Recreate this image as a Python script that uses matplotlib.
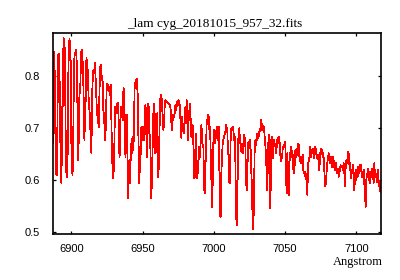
import matplotlib
matplotlib.use('Agg')
import matplotlib.pyplot as plt
import numpy as np

# spectrum, split in chunks along the wavelength axis
wl_1 = [6886.9, 6887.1, 6887.8, 6888.3, 6889.0, 6889.7, 6890.1, 6890.6, 6891.3, 6891.8,
        6892.5, 6893.0, 6893.4, 6893.9, 6894.4, 6895.1, 6895.5, 6896.0, 6896.5, 6897.2,
        6897.6, 6898.1, 6898.6, 6899.0, 6899.5, 6900.0, 6900.7, 6901.1, 6901.6, 6902.1,
        6902.8, 6903.3, 6903.7, 6904.2, 6904.7, 6905.1, 6905.6, 6906.1, 6906.8, 6907.5,
        6907.9, 6908.4, 6909.1, 6909.6, 6910.0, 6910.5, 6911.0, 6911.4, 6912.1, 6912.8,
        6913.5, 6914.0, 6914.5, 6914.9, 6915.4, 6915.9, 6916.4, 6916.8, 6917.3, 6917.8,
        6918.5, 6919.2, 6919.6, 6920.1, 6920.6, 6921.0, 6921.5, 6922.0, 6922.4, 6922.9,
        6923.4, 6923.8, 6924.3, 6924.8, 6925.5, 6926.2, 6926.9]
fl_1 = [0.806, 0.671, 0.847, 0.799, 0.613, 0.610, 0.697, 0.841, 0.844, 0.774,
        0.607, 0.594, 0.742, 0.742, 0.873, 0.870, 0.812, 0.668, 0.607, 0.607,
        0.774, 0.844, 0.873, 0.860, 0.825, 0.652, 0.610, 0.633, 0.774, 0.841,
        0.847, 0.851, 0.825, 0.742, 0.639, 0.677, 0.767, 0.767, 0.847, 0.851,
        0.825, 0.780, 0.677, 0.735, 0.754, 0.835, 0.825, 0.812, 0.754, 0.729,
        0.684, 0.652, 0.761, 0.793, 0.812, 0.806, 0.825, 0.806, 0.774, 0.735,
        0.716, 0.703, 0.761, 0.818, 0.822, 0.806, 0.793, 0.790, 0.735, 0.722,
        0.690, 0.677, 0.729, 0.786, 0.783, 0.780, 0.764]

wl_2 = [6927.6, 6928.5, 6929.2, 6929.9, 6930.4, 6930.8, 6931.6, 6932.0, 6932.7, 6933.2,
        6933.7, 6934.1, 6934.6, 6935.1, 6935.5, 6936.0, 6936.5, 6936.9, 6937.4, 6937.9,
        6938.3, 6938.8, 6939.3, 6939.7, 6940.2, 6940.7, 6941.1, 6941.6, 6942.1, 6942.5,
        6943.0, 6943.5, 6943.9, 6944.4, 6945.1, 6945.8, 6946.3, 6946.8, 6947.2, 6947.7,
        6948.2, 6948.6, 6949.1, 6949.6, 6950.0, 6950.5, 6951.0, 6951.4, 6951.9, 6952.4,
        6952.8, 6953.3, 6953.8, 6954.2, 6954.7, 6955.2, 6955.7, 6956.1, 6956.6, 6957.1,
        6957.5, 6958.0, 6958.5, 6958.9, 6959.4, 6959.9, 6960.3, 6960.8, 6961.3, 6961.7,
        6962.2, 6962.7, 6963.1, 6963.6, 6964.1, 6964.5, 6965.0, 6965.5, 6965.9, 6966.4,
        6966.9, 6967.6]
fl_2 = [0.783, 0.645, 0.604, 0.626, 0.722, 0.742, 0.729, 0.748, 0.748, 0.709,
        0.645, 0.658, 0.742, 0.722, 0.742, 0.716, 0.777, 0.774, 0.703, 0.645,
        0.726, 0.726, 0.645, 0.565, 0.626, 0.639, 0.594, 0.671, 0.639, 0.677,
        0.684, 0.658, 0.709, 0.786, 0.790, 0.796, 0.774, 0.748, 0.610, 0.594,
        0.665, 0.649, 0.703, 0.677, 0.684, 0.703, 0.677, 0.722, 0.745, 0.729,
        0.645, 0.697, 0.748, 0.742, 0.690, 0.684, 0.626, 0.565, 0.620, 0.677,
        0.729, 0.748, 0.722, 0.652, 0.658, 0.677, 0.729, 0.607, 0.626, 0.677,
        0.754, 0.761, 0.764, 0.745, 0.716, 0.697, 0.709, 0.748, 0.754, 0.751,
        0.751, 0.748]

wl_3 = [6968.3, 6969.2, 6969.7, 6970.1, 6970.6, 6971.1, 6971.5, 6972.0, 6972.5, 6973.0,
        6973.4, 6973.9, 6974.4, 6974.8, 6975.3, 6975.8, 6976.2, 6976.7, 6977.2, 6977.6,
        6978.1, 6978.6, 6979.0, 6979.5, 6980.0, 6980.4, 6980.9, 6981.4, 6981.8, 6982.3,
        6982.8, 6983.2, 6983.7, 6984.2, 6984.7, 6985.1, 6985.6, 6986.1, 6986.5, 6987.0,
        6987.5, 6987.9, 6988.4, 6988.9, 6989.3, 6989.8, 6990.3, 6990.7, 6991.2, 6991.7,
        6992.1, 6992.6, 6993.1, 6993.5, 6994.0, 6994.5, 6994.9, 6995.4, 6995.9, 6996.4,
        6996.8, 6997.3, 6997.8, 6998.2, 6998.7, 6999.2, 6999.6, 7000.1, 7000.6, 7001.0,
        7001.5, 7002.0, 7002.4, 7002.9, 7003.4, 7003.8, 7004.3, 7004.8, 7005.2, 7005.7,
        7006.2, 7006.6, 7007.1, 7007.6, 7008.3]
fl_3 = [0.748, 0.745, 0.735, 0.713, 0.697, 0.719, 0.726, 0.722, 0.729, 0.745,
        0.735, 0.751, 0.742, 0.751, 0.754, 0.751, 0.735, 0.703, 0.681, 0.722,
        0.700, 0.709, 0.690, 0.716, 0.742, 0.709, 0.754, 0.716, 0.677, 0.719,
        0.735, 0.748, 0.716, 0.684, 0.690, 0.706, 0.668, 0.604, 0.658, 0.607,
        0.690, 0.633, 0.604, 0.629, 0.642, 0.665, 0.645, 0.671, 0.706, 0.690,
        0.668, 0.665, 0.588, 0.575, 0.620, 0.665, 0.709, 0.716, 0.726, 0.722,
        0.697, 0.703, 0.645, 0.591, 0.549, 0.600, 0.671, 0.697, 0.693, 0.671,
        0.693, 0.700, 0.703, 0.677, 0.703, 0.633, 0.533, 0.530, 0.613, 0.645,
        0.674, 0.677, 0.684, 0.690, 0.697]

wl_4 = [7008.5, 7009.4, 7009.9, 7010.4, 7010.8, 7011.3, 7011.8, 7012.2, 7012.7, 7013.2,
        7013.7, 7014.1, 7014.6, 7015.1, 7015.5, 7016.0, 7016.5, 7016.9, 7017.4, 7017.9,
        7018.3, 7018.8, 7019.3, 7019.7, 7020.2, 7020.7, 7021.1, 7021.6, 7022.1, 7022.5,
        7023.0, 7023.5, 7023.9, 7024.4, 7024.9, 7025.4, 7025.8, 7026.3, 7026.8, 7027.2,
        7027.7, 7028.2, 7028.6, 7029.1, 7029.6, 7030.0, 7030.5, 7031.0, 7031.4, 7031.9,
        7032.4, 7032.8, 7033.3, 7033.8, 7034.2, 7034.7, 7035.2, 7035.6, 7036.1, 7036.6,
        7037.1, 7037.5, 7038.0, 7038.5, 7038.9, 7039.4, 7039.9, 7040.3, 7040.8, 7041.3,
        7041.7, 7042.2, 7042.7, 7043.1, 7043.6, 7044.1, 7044.5, 7045.0, 7045.5, 7045.9,
        7046.4, 7046.9, 7047.3, 7047.8, 7048.3, 7049.0]
fl_4 = [0.706, 0.697, 0.652, 0.649, 0.597, 0.594, 0.690, 0.700, 0.697, 0.703,
        0.697, 0.677, 0.684, 0.633, 0.540, 0.514, 0.568, 0.658, 0.697, 0.700,
        0.671, 0.671, 0.655, 0.668, 0.652, 0.671, 0.687, 0.681, 0.665, 0.604,
        0.581, 0.610, 0.671, 0.674, 0.661, 0.677, 0.658, 0.613, 0.581, 0.511,
        0.506, 0.581, 0.658, 0.677, 0.668, 0.677, 0.690, 0.681, 0.684, 0.693,
        0.697, 0.700, 0.716, 0.697, 0.706, 0.697, 0.703, 0.684, 0.668, 0.645,
        0.607, 0.581, 0.658, 0.687, 0.684, 0.546, 0.588, 0.677, 0.684, 0.642,
        0.668, 0.677, 0.665, 0.671, 0.652, 0.665, 0.677, 0.681, 0.671, 0.684,
        0.658, 0.636, 0.645, 0.642, 0.661, 0.668]

wl_5 = [7049.7, 7050.1, 7050.6, 7051.1, 7051.5, 7052.0, 7052.5, 7053.0, 7053.4, 7053.9,
        7054.4, 7054.8, 7055.3, 7055.8, 7056.2, 7056.7, 7057.2, 7057.6, 7058.1, 7058.6,
        7059.0, 7059.5, 7060.0, 7060.4, 7060.9, 7061.4, 7061.8, 7062.3, 7062.8, 7063.2,
        7063.7, 7064.2, 7064.6, 7065.1, 7065.6, 7066.1, 7066.5, 7067.0, 7067.5, 7067.9,
        7068.4, 7068.9, 7069.3, 7069.8, 7070.3, 7070.7, 7071.2, 7071.7, 7072.1, 7072.6,
        7073.1, 7073.5, 7074.0, 7074.5, 7074.9, 7075.4, 7075.9, 7076.3, 7076.8, 7077.3,
        7077.8, 7078.2, 7078.7, 7079.2, 7079.6, 7080.1, 7080.6, 7081.0, 7081.5, 7082.0,
        7082.4, 7082.9, 7083.4, 7083.8, 7084.3, 7084.8, 7085.2, 7085.7, 7086.2, 7086.6,
        7087.1, 7087.6, 7088.0, 7088.5, 7089.0, 7089.7]
fl_5 = [0.668, 0.674, 0.607, 0.575, 0.652, 0.620, 0.572, 0.633, 0.645, 0.661,
        0.665, 0.645, 0.649, 0.620, 0.613, 0.629, 0.658, 0.645, 0.649, 0.661,
        0.671, 0.668, 0.645, 0.642, 0.633, 0.645, 0.639, 0.649, 0.620, 0.613,
        0.617, 0.607, 0.613, 0.594, 0.572, 0.633, 0.636, 0.642, 0.665, 0.645,
        0.649, 0.658, 0.652, 0.661, 0.642, 0.649, 0.665, 0.655, 0.645, 0.642,
        0.649, 0.633, 0.620, 0.645, 0.658, 0.661, 0.658, 0.645, 0.652, 0.633,
        0.600, 0.588, 0.597, 0.620, 0.633, 0.642, 0.652, 0.649, 0.633, 0.645,
        0.639, 0.626, 0.636, 0.645, 0.633, 0.620, 0.626, 0.633, 0.620, 0.613,
        0.623, 0.607, 0.613, 0.620, 0.629, 0.626]

wl_6 = [7090.1, 7090.6, 7091.1, 7091.6, 7092.0, 7092.5, 7093.0, 7093.4, 7093.9, 7094.4,
        7094.8, 7095.3, 7095.8, 7096.2, 7096.7, 7097.2, 7097.6, 7098.1, 7098.6, 7099.0,
        7099.5, 7100.0, 7100.4, 7100.9, 7101.4, 7101.8, 7102.3, 7102.8, 7103.3, 7103.7,
        7104.2, 7104.7, 7105.1, 7105.6, 7106.1, 7106.5, 7107.0, 7107.5, 7107.9, 7108.4,
        7108.9, 7109.3, 7109.8, 7110.3, 7110.7, 7111.2, 7111.7, 7112.1, 7112.6, 7113.1,
        7113.5, 7114.0, 7114.5, 7115.0, 7115.4, 7115.9, 7116.4, 7116.8, 7117.3]
fl_6 = [0.626, 0.620, 0.633, 0.613, 0.588, 0.626, 0.639, 0.633, 0.642, 0.655,
        0.645, 0.620, 0.633, 0.604, 0.620, 0.613, 0.629, 0.607, 0.581, 0.607,
        0.620, 0.600, 0.617, 0.607, 0.626, 0.613, 0.629, 0.620, 0.629, 0.607,
        0.617, 0.607, 0.620, 0.594, 0.575, 0.549, 0.600, 0.613, 0.610, 0.623,
        0.607, 0.594, 0.613, 0.607, 0.623, 0.607, 0.613, 0.594, 0.633, 0.607,
        0.613, 0.607, 0.597, 0.620, 0.607, 0.588, 0.600, 0.578, 0.594]

title = '_lam cyg_20181015_957_32.fits'
x_ticks = [6900, 6950, 7000, 7050, 7100]
y_ticks = [0.5, 0.6, 0.7, 0.8]

wave = np.concatenate([wl_1, wl_2, wl_3, wl_4, wl_5, wl_6])
flux = np.concatenate([fl_1, fl_2, fl_3, fl_4, fl_5, fl_6])

fig = plt.figure(figsize=(4, 2.8), dpi=100)
ax = fig.add_axes([0.132, 0.164, 0.8205, 0.717])
# crisp 1px line like the original viewer
ax.plot(wave, flux, color='red', lw=0.55, antialiased=False)

ax.set_xlim(6886.9, 7117.3)
ax.set_ylim(0.4967, 0.8827)
ax.set_xticks(x_ticks)
ax.set_yticks(y_ticks)
ax.set_yticklabels([str(v) for v in y_ticks])

ax.tick_params(direction='in', top=True, right=True, length=2.5, width=0.9,
               labelsize=8)
ax.tick_params(axis='x', pad=7.5)
ax.tick_params(axis='y', pad=9)
for lab in ax.get_xticklabels() + ax.get_yticklabels():
    lab.set_fontfamily('Liberation Sans')
for sp in ax.spines.values():
    sp.set_linewidth(1.2)

# title sits a little left of the axes centre in the original
fig.text(215 / 400, 1 - 27 / 280, title, ha='center', va='baseline',
         fontfamily='Liberation Serif', fontsize=9.5)
fig.text(383 / 400, 1 - 262 / 280, 'Angstrom', ha='right', va='center',
         fontfamily='Liberation Serif', fontsize=9)

fig.savefig('out.png', dpi=100)
